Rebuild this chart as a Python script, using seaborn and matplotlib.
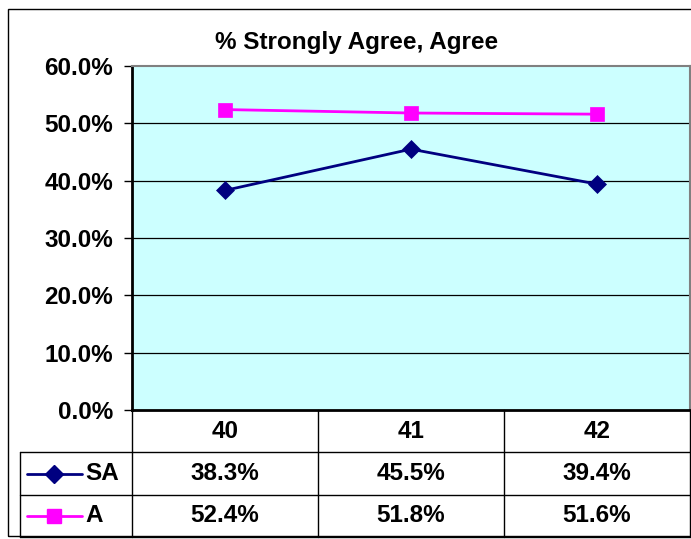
import matplotlib
matplotlib.use("Agg")
import matplotlib.pyplot as plt
import numpy as np
import pandas as pd
import seaborn as sns
from matplotlib.patches import Rectangle
from matplotlib.lines import Line2D

categories = ["40", "41", "42"]
series_names = ["SA", "A"]
sa_values = [38.3, 45.5, 39.4]
a_values = [52.4, 51.8, 51.6]
series_colors = ["#000080", "#FF00FF"]
series_markers = ["D", "s"]
y_ticks = [0, 10, 20, 30, 40, 50, 60]
title = "% Strongly Agree, Agree"

sns.set_theme(style="white")
plt.rcParams["font.family"] = ["Liberation Sans", "DejaVu Sans"]
plt.rcParams["font.weight"] = "bold"
plt.rcParams["text.color"] = "black"
plt.rcParams["ytick.color"] = "black"
plt.rcParams["xtick.color"] = "black"

W, H = 691, 539
FS = 17.5
fig = plt.figure(figsize=(W / 100, H / 100), dpi=100)
fig.patch.set_facecolor("white")


def fx(px):
    return px / W


def fy(py):
    return 1 - py / H


# outer chart border
fig.patches.append(Rectangle((fx(8), fy(536)), fx(700) - fx(8), fy(9) - fy(536),
                             transform=fig.transFigure, fill=False,
                             edgecolor="black", linewidth=1.0))

# plot area
left, right, top, bottom = 132, 690, 66, 410
ax = fig.add_axes([fx(left), fy(bottom), fx(right) - fx(left), fy(top) - fy(bottom)])
ax.set_facecolor("#CCFFFF")

x_pos = np.arange(len(categories))
values = [sa_values, a_values]
msizes = [9.5, 10.5]
for name, vals, col, mk, ms in zip(series_names, values, series_colors, series_markers, msizes):
    df = pd.DataFrame({"x": x_pos, "y": vals})
    sns.lineplot(data=df, x="x", y="y", ax=ax, color=col, marker=mk, markersize=ms,
                 markeredgecolor=col, markeredgewidth=0.5, linewidth=2.0, zorder=3)

ax.set_xlim(-0.5, len(categories) - 0.5)
ax.set_ylim(0, 60)
ax.set_yticks(y_ticks)
ax.set_yticklabels([f"{t:.1f}%" for t in y_ticks], fontsize=FS, fontweight="bold", color="black")
ax.set_xticks([])
ax.set_xlabel("")
ax.set_ylabel("")
for t in y_ticks[1:-1]:
    ax.axhline(t, color="black", linewidth=0.9, zorder=1)
ax.tick_params(axis="y", direction="out", length=5.5, width=1, color="black", pad=8, left=True)
ax.spines["left"].set_color("black")
ax.spines["left"].set_linewidth(2)
ax.spines["bottom"].set_color("black")
ax.spines["bottom"].set_linewidth(2)
ax.spines["top"].set_color("#808080")
ax.spines["top"].set_linewidth(1.5)
ax.spines["right"].set_color("#808080")
ax.spines["right"].set_linewidth(1.5)

fig.text(fx(357), fy(42), title, ha="center", va="center", fontsize=FS, fontweight="bold",
         color="black")

# data table below the plot
tleft = 20
tax = fig.add_axes([fx(tleft), fy(537), fx(right) - fx(tleft), fy(bottom) - fy(537)])
unit = (right - left) / len(categories)
lab_l = -0.5 - (left - tleft) / unit
tax.set_xlim(lab_l, len(categories) - 0.5)
tax.set_ylim(3, 0)
tax.axis("off")
lk = dict(color="black", linewidth=1.0, clip_on=False)
for xb in np.arange(len(categories) + 1) - 0.5:
    tax.add_line(Line2D([xb, xb], [0, 3], **lk))
tax.add_line(Line2D([lab_l, lab_l], [1, 3], **lk))
for yb in [1, 2, 3]:
    tax.add_line(Line2D([lab_l, len(categories) - 0.5], [yb, yb], **lk))

for i, c in enumerate(categories):
    tax.text(i, 0.5, c, ha="center", va="center", fontsize=FS, fontweight="bold", color="black")
px = 1 / unit
for r, (name, vals, col, mk, ms) in enumerate(zip(series_names, values, series_colors,
                                                   series_markers, msizes)):
    yy = r + 1.5
    tax.add_line(Line2D([lab_l + 7 * px, lab_l + 62 * px], [yy, yy], color=col, linewidth=2))
    tax.add_line(Line2D([lab_l + 34 * px], [yy], color=col, marker=mk, markersize=ms,
                        markerfacecolor=col, markeredgecolor=col, linestyle="none"))
    tax.text(lab_l + 65 * px, yy, name, ha="left", va="center", fontsize=FS, fontweight="bold",
             color="black")
    for i, v in enumerate(vals):
        tax.text(i, yy, f"{v:.1f}%", ha="center", va="center", fontsize=FS, fontweight="bold",
                 color="black")

fig.savefig("out.png", dpi=100)
